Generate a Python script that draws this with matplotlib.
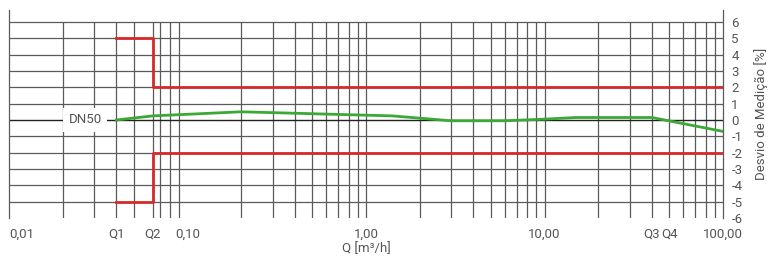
import numpy as np
import matplotlib
matplotlib.use("Agg")
import matplotlib.pyplot as plt

# flow points [m3/h] and measured deviation [%]
q_meas = [0.04, 0.064, 0.2, 1.4, 3.0, 6.0, 10.0, 15.0, 40.0, 100.0]
dev_meas = [0.0, 0.25, 0.5, 0.25, -0.05, -0.05, 0.05, 0.15, 0.15, -0.7]

# max permissible error limits
q_lim = [0.04, 0.064, 0.064, 100.0]
upper_lim = [5, 5, 2, 2]
lower_lim = [-5, -5, -2, -2]

x_ticks = [0.01, 0.04, 0.064, 0.1, 1.0, 10.0, 40.0, 50.0, 100.0]
x_ticklabels = ["0,01", "Q1", "Q2", "0,10", "1,00", "10,00", "Q3", "Q4", "100,00"]

grid_x = [0.02, 0.03, 0.04, 0.05, 0.064, 0.07, 0.08, 0.09,
          0.2, 0.3, 0.4, 0.5, 0.6, 0.7, 0.8, 0.9, 1.0,
          2, 3, 4, 5, 6, 7, 8, 9, 10,
          20, 30, 40, 50, 60, 70, 80, 90]
y_ticks = list(range(-6, 7))

txt = "#555555"
gridc = "#5a5a5a"
fs = 9.5
plt.rcParams["font.family"] = ["Roboto", "DejaVu Sans"]

fig = plt.figure(figsize=(7.68, 2.57), dpi=100)
ax = fig.add_axes([9 / 768, 39 / 257, 714 / 768, 208 / 257])
ax.set_xscale("log")
ax.set_xlim(0.01, 100)
ax.set_ylim(-6, 6.73)

ax.vlines(grid_x, -6, 6, color=gridc, lw=0.9, zorder=1)
ax.hlines([y for y in range(-5, 7) if y != 0], 0.01, 100, color=gridc, lw=0.9, zorder=1)
ax.hlines(0, 0.01, 100, color="#222222", lw=1.0, zorder=2)

ax.plot(q_lim, upper_lim, color="#d62a2a", lw=2, zorder=3)
ax.plot(q_lim, lower_lim, color="#d62a2a", lw=2, zorder=3)
ax.plot(q_meas, dev_meas, color="#3aa935", lw=2, zorder=4)

ax.text(0.0267, 0, "DN50", ha="center", va="center", fontsize=fs, color=txt,
        bbox=dict(facecolor="white", edgecolor="none", pad=4), zorder=5)

for s in ["top", "bottom"]:
    ax.spines[s].set_visible(False)
for s in ["left", "right"]:
    ax.spines[s].set_color(gridc)
    ax.spines[s].set_linewidth(0.9)

ax.set_xticks(x_ticks)
ax.set_xticklabels(x_ticklabels)
ax.xaxis.set_minor_locator(matplotlib.ticker.NullLocator())
ax.tick_params(axis="x", length=0, pad=7, labelsize=fs, labelcolor=txt)
ax.get_xticklabels()[0].set_horizontalalignment("left")

ax.yaxis.tick_right()
ax.set_yticks(y_ticks)
ax.set_yticklabels([str(y) for y in y_ticks])
ax.tick_params(axis="y", length=0, pad=6, labelsize=fs, labelcolor=txt)

ax.set_xlabel("Q [m³/h]", fontsize=fs, color=txt, labelpad=1)
ax.yaxis.set_label_position("right")
ax.set_ylabel("Desvio de Medição [%]", fontsize=fs, color=txt, labelpad=8)

fig.savefig("out.png", dpi=100)
